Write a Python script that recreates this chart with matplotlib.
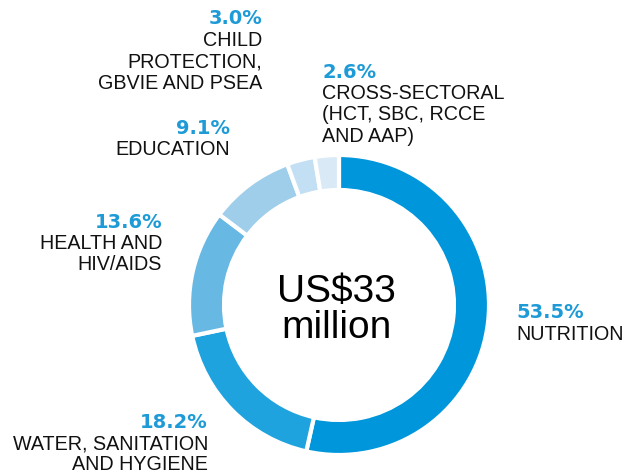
import matplotlib.pyplot as plt

plt.rcParams['font.family'] = ['Liberation Sans', 'DejaVu Sans']

# data
sectors = ['NUTRITION', 'WATER, SANITATION\nAND HYGIENE', 'HEALTH AND\nHIV/AIDS', 'EDUCATION',
           'CHILD\nPROTECTION,\nGBVIE AND PSEA', 'CROSS-SECTORAL\n(HCT, SBC, RCCE\nAND AAP)']
shares = [53.5, 18.2, 13.6, 9.1, 3.0, 2.6]
colors = ['#0096db', '#1fa3df', '#68b8e4', '#9fceeb', '#c2dff3', '#d9eaf6']

W, H = 626, 470
fig = plt.figure(figsize=(W / 100, H / 100), dpi=100)
ax = fig.add_axes([0, 0, 1, 1])

cx, cy = 339, H - 305
ax.pie(shares, colors=colors, startangle=90, counterclock=False, center=(cx, cy), radius=150,
       wedgeprops=dict(width=35, edgecolor='white', linewidth=3), frame=True)
ax.set_xlim(0, W)
ax.set_ylim(0, H)
ax.axis('off')

blue = '#1e9bd7'
# label anchor (x, y of percent line in pixels from top, alignment)
anchors = [(516, 313, 'left'), (208, 422, 'right'), (162, 222, 'right'),
           (230, 128, 'right'), (262, 19, 'right'), (322, 72, 'left')]
step = 21.5
for name, val, (x, y, ha) in zip(sectors, shares, anchors):
    ax.text(x, H - y, f'{val:.1f}%', ha=ha, va='center', fontsize=14,
            fontweight='bold', color=blue, family='DejaVu Sans')
    for i, line in enumerate(name.split('\n')):
        ax.text(x, H - (y + step * (i + 1)), line, ha=ha, va='center',
                fontsize=14.2, color='#111111')

ax.text(336, H - 292, 'US$33', ha='center', va='center', fontsize=28, color='black')
ax.text(336, H - 328, 'million', ha='center', va='center', fontsize=28, color='black')

fig.savefig('out.png', dpi=100)
